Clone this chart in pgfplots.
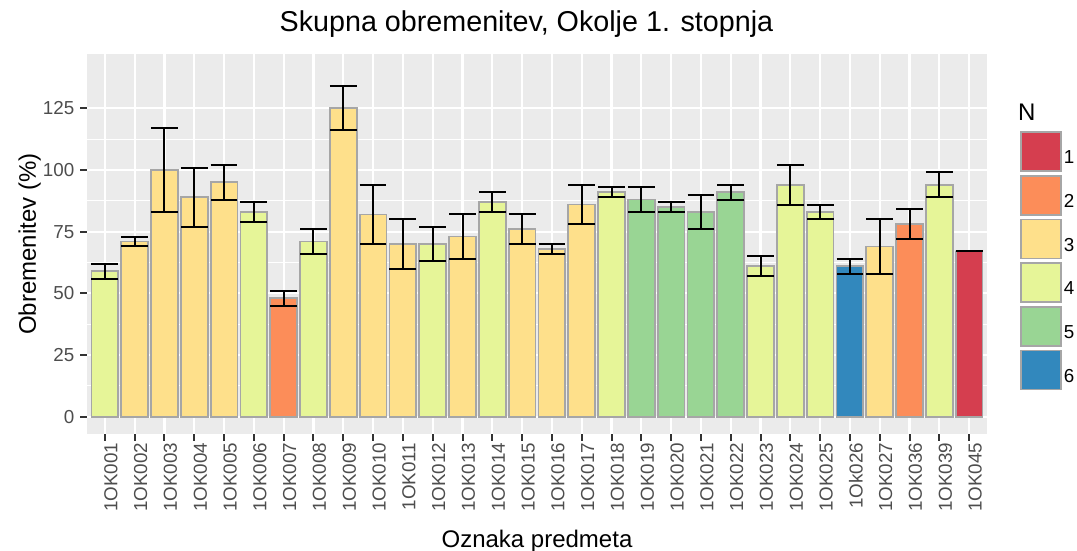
\documentclass[border=0pt]{standalone}
\usepackage{pgfplots}
\pgfplotsset{compat=1.18}
\usepackage{fontspec}
\setmainfont{Liberation Sans}
\definecolor{c1}{HTML}{D53E4F}
\definecolor{c2}{HTML}{FC8D59}
\definecolor{c3}{HTML}{FEE08B}
\definecolor{c4}{HTML}{E6F598}
\definecolor{c5}{HTML}{99D594}
\definecolor{c6}{HTML}{3288BD}
\definecolor{panelbg}{HTML}{EBEBEB}
\definecolor{barline}{HTML}{A6A6A6}
\definecolor{ticktext}{HTML}{4D4D4D}
\definecolor{tickmark}{HTML}{333333}
\pgfplotsset{
  mybar/.style={ybar, bar width=0.9, bar shift=0pt, fill=#1, draw=barline, line width=1.7bp, mark=none, forget plot,
    error bars/.cd, y dir=both, y explicit,
    error bar style={black, line width=2bp},
    error mark options={rotate=90, mark size=13.4bp, line width=2bp, black}},
  mykey/.style={legend image code/.code={\draw[fill=#1, draw=barline, line width=1.7bp] (0bp,-13.2bp) rectangle (40bp,25.8bp);}}
}
\begin{document}
\begin{tikzpicture}
\begin{axis}[
  at={(87bp,117bp)}, anchor=south west,
  width=900bp, height=380bp, scale only axis,
  xmin=-0.6, xmax=29.6, ymin=-7, ymax=147,
  clip mode=individual,
  axis background/.style={fill=panelbg},
  axis line style={draw=none},
  xtick={0,...,29},
  xticklabels={1OK001,1OK002,1OK003,1OK004,1OK005,1OK006,1OK007,1OK008,1OK009,1OK010,1OK011,1OK012,1OK013,1OK014,1OK015,1OK016,1OK017,1OK018,1OK019,1OK020,1OK021,1OK022,1OK023,1OK024,1OK025,1Ok026,1OK027,1OK036,1OK039,1OK045},
  ytick={0,25,50,75,100,125},
  minor ytick={12.5,37.5,62.5,87.5,112.5},
  xmajorgrids, ymajorgrids, yminorgrids,
  major grid style={white, line width=2.2bp},
  minor grid style={white, line width=1.1bp},
  tick align=outside,
  major tick length=6.5bp, minor tick length=0pt,
  tick style={tickmark, line width=2bp},
  xtick pos=bottom, ytick pos=left,
  /pgf/number format/assume math mode=true,
  yticklabel style={font=\fontsize{18.8bp}{20bp}\selectfont, text=ticktext, inner sep=0pt, anchor=east, xshift=-6bp},
  xticklabel style={font=\fontsize{18.8bp}{20bp}\selectfont, text=ticktext, inner sep=0pt, rotate=90, anchor=east, yshift=-6bp, xshift=-2bp},
  title={Skupna obremenitev, Okolje 1. stopnja},
  title style={at={(axis description cs:0.4883,1.0439)}, anchor=base, inner sep=0pt, font=\fontsize{28.7bp}{30bp}\selectfont},
  xlabel={Oznaka predmeta},
  xlabel style={at={(axis description cs:0.5,-0.2990)}, anchor=base, inner sep=0pt, font=\fontsize{24bp}{26bp}\selectfont},
  ylabel={Obremenitev (\%)},
  ylabel style={at={(axis description cs:-0.0567,0.5)}, anchor=base, rotate=0, inner sep=0pt, font=\fontsize{24bp}{26bp}\selectfont},
  legend style={at={(axis description cs:1.0367,0.7974)}, anchor=north west, draw=none, fill=none, inner sep=0pt, row sep=3bp,
    font=\fontsize{18.8bp}{20bp}\selectfont, cells={anchor=west}},
  legend cell align=left,
  /tikz/every even column/.append style={column sep=7bp},
]
% N = 1
\addplot[mybar=c1] coordinates {(29,67) +- (0,0)};
% N = 2
\addplot[mybar=c2] coordinates {(6,48) +- (0,3) (27,78) +- (0,6)};
% N = 3
\addplot[mybar=c3] coordinates {
  (1,71) +- (0,2) (2,100) +- (0,17) (3,89) +- (0,12) (4,95) +- (0,7)
  (8,125) +- (0,9) (9,82) +- (0,12) (10,70) +- (0,10) (12,73) +- (0,9)
  (14,76) +- (0,6) (15,68) +- (0,2) (16,86) +- (0,8) (26,69) +- (0,11)};
% N = 4
\addplot[mybar=c4] coordinates {
  (0,59) +- (0,3) (5,83) +- (0,4) (7,71) +- (0,5) (11,70) +- (0,7)
  (13,87) +- (0,4) (17,91) +- (0,2) (22,61) +- (0,4) (23,94) +- (0,8)
  (24,83) +- (0,3) (28,94) +- (0,5)};
% N = 5
\addplot[mybar=c5] coordinates {
  (18,88) +- (0,5) (19,85) +- (0,2) (20,83) +- (0,7) (21,91) +- (0,3)};
% N = 6
\addplot[mybar=c6] coordinates {(25,61) +- (0,3)};
\addlegendimage{mykey=c1}\addlegendentry{1}
\addlegendimage{mykey=c2}\addlegendentry{2}
\addlegendimage{mykey=c3}\addlegendentry{3}
\addlegendimage{mykey=c4}\addlegendentry{4}
\addlegendimage{mykey=c5}\addlegendentry{5}
\addlegendimage{mykey=c6}\addlegendentry{6}
\node[anchor=base west, inner sep=0pt, font=\fontsize{24bp}{26bp}\selectfont] at (axis description cs:1.0344,0.8237) {N};
\end{axis}
\pgfresetboundingbox
\useasboundingbox (0,0) rectangle (1077bp,551bp);
\end{tikzpicture}
\end{document}
